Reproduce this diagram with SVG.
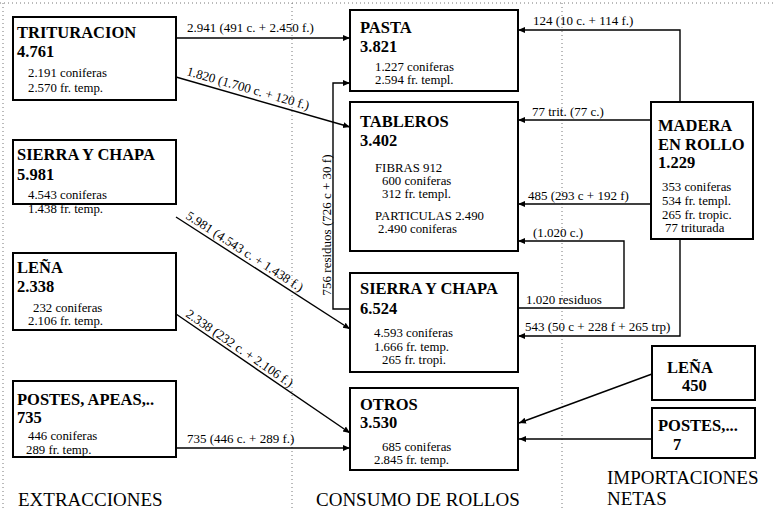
<svg xmlns="http://www.w3.org/2000/svg" width="776" height="510" viewBox="0 0 776 510">
<style>
.bg{fill:#fff}
.box{fill:#fff;stroke:#000;stroke-width:2}
.t{font-family:"Liberation Serif","Times New Roman",serif;font-weight:bold;font-size:16.5px;fill:#000}
.s{font-family:"Liberation Serif","Times New Roman",serif;font-size:12.8px;fill:#000}
.l{font-family:"Liberation Serif","Times New Roman",serif;font-size:13px;fill:#000}
.h{font-family:"Liberation Serif","Times New Roman",serif;font-size:19px;fill:#000}
.c{fill:none;stroke:#000;stroke-width:1.4}
.sep{fill:none;stroke:#777;stroke-width:1;stroke-dasharray:1 3}
</style>
<defs>
<marker id="ah" markerWidth="8" markerHeight="8" refX="7" refY="4" orient="auto" markerUnits="userSpaceOnUse">
<path d="M0,1 L7,4 L0,7 Z" fill="#000"/>
</marker>
</defs>
<rect class="bg" x="0" y="0" width="776" height="510"/>
<g id="separators">
<line class="sep" x1="0" y1="3" x2="776" y2="3"/>
<line class="sep" x1="3" y1="3" x2="3" y2="510"/>
<line class="sep" x1="292" y1="3" x2="292" y2="510"/>
<line class="sep" x1="562" y1="3" x2="562" y2="510"/>
</g>
<g id="connectors">
<line class="c" x1="176" y1="38" x2="350" y2="38" marker-end="url(#ah)"/>
<text class="l" x="187" y="32">2.941 (491 c. + 2.450 f.)</text>
<line class="c" x1="176" y1="77" x2="350" y2="127" marker-end="url(#ah)"/>
<text class="l" transform="translate(186,75) rotate(16)">1.820 (1.700 c. + 120 f.)</text>
<line class="c" x1="176" y1="217" x2="350" y2="329" marker-end="url(#ah)"/>
<text class="l" transform="translate(185,218) rotate(32.8)">5.981 (4.543 c. + 1.438 f.)</text>
<line class="c" x1="176" y1="314" x2="350" y2="433" marker-end="url(#ah)"/>
<text class="l" transform="translate(185,316) rotate(34.4)">2.338 (232 c. + 2.106 f.)</text>
<line class="c" x1="176" y1="448" x2="350" y2="448" marker-end="url(#ah)"/>
<text class="l" x="187" y="443">735 (446 c. + 289 f.)</text>
<polyline class="c" points="350,309 333,309 333,83 350,83" marker-end="url(#ah)"/>
<text class="l" transform="translate(331,225) rotate(-90)" text-anchor="middle">756 residuos (726 c + 30 f)</text>
<polyline class="c" points="680,102 680,30 518,30" marker-end="url(#ah)"/>
<text class="l" x="533" y="25">124 (10 c. + 114 f.)</text>
<line class="c" x1="651" y1="120" x2="518" y2="120" marker-end="url(#ah)"/>
<text class="l" x="532" y="116">77 trit. (77 c.)</text>
<line class="c" x1="651" y1="204" x2="518" y2="204" marker-end="url(#ah)"/>
<text class="l" x="528" y="200">485 (293 c + 192 f)</text>
<polyline class="c" points="518,308 624,308 624,241 518,241" marker-end="url(#ah)"/>
<text class="l" x="533" y="237">(1.020 c.)</text>
<text class="l" x="526" y="304">1.020 residuos</text>
<polyline class="c" points="680,239 680,336 518,336" marker-end="url(#ah)"/>
<text class="l" x="525" y="331">543 (50 c + 228 f + 265 trp)</text>
<line class="c" x1="652" y1="374" x2="519" y2="423" marker-end="url(#ah)"/>
<line class="c" x1="652" y1="439" x2="519" y2="439" marker-end="url(#ah)"/>
</g>
<g id="trituracion">
<rect class="box" x="13" y="17" width="163" height="83"/>
<text class="t" x="17" y="38">TRITURACION</text>
<text class="t" x="17" y="57">4.761</text>
<text class="s" x="28" y="77">2.191 coniferas</text>
<text class="s" x="28" y="92">2.570 fr. temp.</text>
</g>
<g id="sierra-extr">
<rect class="box" x="13" y="140" width="163" height="64"/>
<text class="t" x="17" y="160">SIERRA Y CHAPA</text>
<text class="t" x="17" y="180">5.981</text>
<text class="s" x="28" y="199">4.543 coniferas</text>
<text class="s" x="28" y="213">1.438 fr. temp.</text>
</g>
<g id="lena-extr">
<rect class="box" x="13" y="253" width="163" height="77"/>
<text class="t" x="17" y="273">LEÑA</text>
<text class="t" x="17" y="292">2.338</text>
<text class="s" x="33" y="312">232 coniferas</text>
<text class="s" x="28" y="325">2.106 fr. temp.</text>
</g>
<g id="postes-extr">
<rect class="box" x="13" y="381" width="163" height="76"/>
<text class="t" x="17" y="405">POSTES, APEAS,..</text>
<text class="t" x="17" y="423">735</text>
<text class="s" x="28" y="440">446 coniferas</text>
<text class="s" x="26" y="454">289 fr. temp.</text>
</g>
<g id="pasta">
<rect class="box" x="350" y="10" width="168" height="81"/>
<text class="t" x="360" y="33">PASTA</text>
<text class="t" x="360" y="52">3.821</text>
<text class="s" x="375" y="71">1.227 coniferas</text>
<text class="s" x="375" y="84">2.594 fr. templ.</text>
</g>
<g id="tableros">
<rect class="box" x="350" y="102" width="168" height="149"/>
<text class="t" x="360" y="127">TABLEROS</text>
<text class="t" x="360" y="146">3.402</text>
<text class="s" x="375" y="172">FIBRAS 912</text>
<text class="s" x="382" y="185">600 coniferas</text>
<text class="s" x="382" y="198">312 fr. templ.</text>
<text class="s" x="375" y="220">PARTICULAS 2.490</text>
<text class="s" x="378" y="233">2.490 coniferas</text>
</g>
<g id="sierra-cons">
<rect class="box" x="350" y="273" width="168" height="99"/>
<text class="t" x="360" y="294">SIERRA Y CHAPA</text>
<text class="t" x="360" y="314">6.524</text>
<text class="s" x="374" y="337">4.593 coniferas</text>
<text class="s" x="374" y="351">1.666 fr. temp.</text>
<text class="s" x="382" y="364">265 fr. tropi.</text>
</g>
<g id="otros">
<rect class="box" x="350" y="388" width="168" height="82"/>
<text class="t" x="360" y="410">OTROS</text>
<text class="t" x="360" y="428">3.530</text>
<text class="s" x="382" y="451">685 coniferas</text>
<text class="s" x="374" y="464">2.845 fr. temp.</text>
</g>
<g id="madera">
<rect class="box" x="651" y="102" width="102" height="137"/>
<text class="t" x="658" y="131">MADERA</text>
<text class="t" x="658" y="150">EN ROLLO</text>
<text class="t" x="658" y="168">1.229</text>
<text class="s" x="662" y="191">353 coniferas</text>
<text class="s" x="662" y="205">534 fr. templ.</text>
<text class="s" x="662" y="219">265 fr. tropic.</text>
<text class="s" x="665" y="232">77 triturada</text>
</g>
<g id="lena-imp">
<rect class="box" x="652" y="346" width="103" height="54"/>
<text class="t" x="667" y="373">LEÑA</text>
<text class="t" x="682" y="391">450</text>
</g>
<g id="postes-imp">
<rect class="box" x="652" y="408" width="103" height="50"/>
<text class="t" x="658" y="431">POSTES,...</text>
<text class="t" x="673" y="450">7</text>
</g>
<g id="headers">
<text class="h" x="18" y="506">EXTRACCIONES</text>
<text class="h" x="316" y="506">CONSUMO DE ROLLOS</text>
<text class="h" x="607" y="484">IMPORTACIONES</text>
<text class="h" x="607" y="505">NETAS</text>
</g>
</svg>
